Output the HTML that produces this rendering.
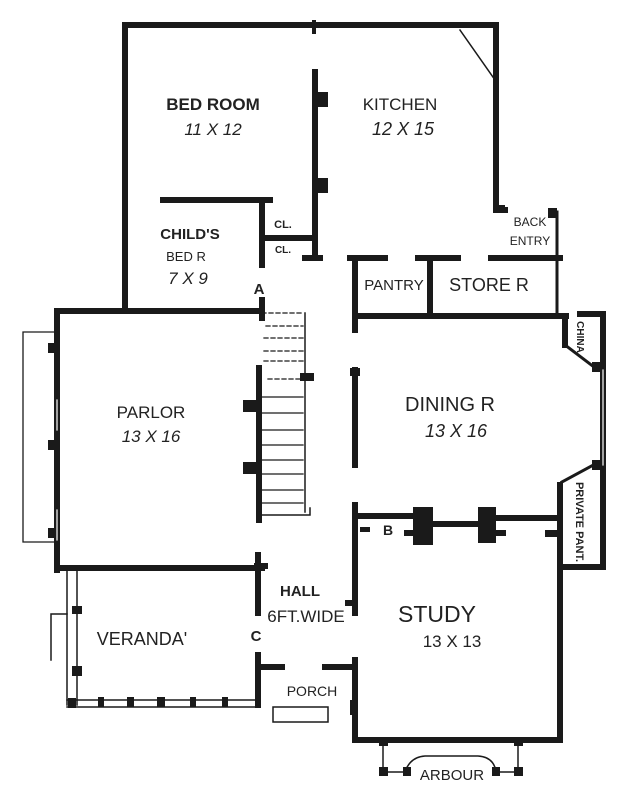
<!DOCTYPE html>
<html><head><meta charset="utf-8">
<style>
html,body{margin:0;padding:0;background:#fff;}
svg{display:block;}
text{font-family:"Liberation Sans",sans-serif;fill:#222;}
</style></head>
<body>
<svg width="630" height="800" viewBox="0 0 630 800" xmlns="http://www.w3.org/2000/svg">
<g stroke="#1a1a1a" stroke-linecap="square" fill="none">
<g stroke-width="6">
<polyline points="125,310 125,25 496,25 496,210 505,210"/>
<line x1="315" y1="72" x2="315" y2="258"/>
<line x1="163" y1="200" x2="270" y2="200"/>
<line x1="262" y1="200" x2="262" y2="265"/>
<line x1="262" y1="238" x2="313" y2="238"/>
<line x1="305" y1="258" x2="320" y2="258"/>
<line x1="350" y1="258" x2="385" y2="258"/>
<line x1="418" y1="258" x2="458" y2="258"/>
<line x1="491" y1="258" x2="560" y2="258"/>
<line x1="355" y1="258" x2="355" y2="330"/>
<line x1="430" y1="258" x2="430" y2="316"/>
<line x1="355" y1="316" x2="566" y2="316"/>
<polyline points="57,570 57,311 262,311"/>
<line x1="262" y1="300" x2="262" y2="318"/>
<line x1="57" y1="568" x2="262" y2="568"/>
<line x1="258" y1="555" x2="258" y2="613"/>
<line x1="259" y1="368" x2="259" y2="520"/>
<line x1="355" y1="370" x2="355" y2="465"/>
<line x1="355" y1="516" x2="415" y2="516"/>
<line x1="433" y1="524" x2="478" y2="524"/>
<line x1="496" y1="518" x2="556" y2="518"/>
<line x1="355" y1="505" x2="355" y2="613"/>
<polyline points="355,660 355,740 560,740 560,485"/>
<line x1="565" y1="316" x2="565" y2="345"/>
<polyline points="580,314 603,314 603,567 562,567"/>
<line x1="258" y1="655" x2="258" y2="705"/>
<line x1="258" y1="667" x2="282" y2="667"/>
<line x1="325" y1="667" x2="352" y2="667"/>
</g>
<line x1="557" y1="212" x2="557" y2="316" stroke-width="3"/>
<line x1="460" y1="30" x2="495" y2="80" stroke-width="1.5"/>
<line x1="565" y1="345" x2="598" y2="370" stroke-width="3"/>
<line x1="562" y1="482" x2="597" y2="463" stroke-width="3"/>
<polyline points="54,332 23,332 23,542 54,542" stroke-width="1.3"/>
<g stroke-width="1.5">
<line x1="67" y1="570" x2="67" y2="705"/>
<line x1="77" y1="570" x2="77" y2="705"/>
<polyline points="67,614 51,614 51,660"/>
<line x1="67" y1="700" x2="258" y2="700"/>
<line x1="67" y1="707" x2="258" y2="707"/>
<rect x="273" y="707" width="55" height="15"/>
<line x1="305" y1="313" x2="305" y2="512"/>
<polyline points="262,515 310,515 310,508"/>
</g>
<g stroke-width="1.3" stroke-dasharray="4,3">
<line x1="262" y1="313" x2="303" y2="313"/>
<line x1="266" y1="326" x2="303" y2="326"/>
<line x1="264" y1="338" x2="303" y2="338"/>
<line x1="264" y1="351" x2="303" y2="351"/>
<line x1="264" y1="361" x2="303" y2="361"/>
<line x1="268" y1="379" x2="303" y2="379"/>
</g>
<g stroke-width="1.3">
<line x1="262" y1="397" x2="303" y2="397"/>
<line x1="262" y1="413" x2="303" y2="413"/>
<line x1="262" y1="430" x2="303" y2="430"/>
<line x1="262" y1="445" x2="303" y2="445"/>
<line x1="262" y1="460" x2="303" y2="460"/>
<line x1="262" y1="474" x2="303" y2="474"/>
<line x1="262" y1="490" x2="303" y2="490"/>
<line x1="262" y1="503" x2="303" y2="503"/>
</g>
<line x1="603" y1="370" x2="603" y2="465" stroke="#fff" stroke-width="1.2"/>
<line x1="57" y1="400" x2="57" y2="430" stroke="#fff" stroke-width="1.2"/>
<line x1="57" y1="510" x2="57" y2="540" stroke="#fff" stroke-width="1.2"/>
<g stroke-width="1.5">
<line x1="383" y1="742" x2="383" y2="772"/>
<line x1="518" y1="742" x2="518" y2="772"/>
<line x1="383" y1="772" x2="405" y2="772"/>
<line x1="496" y1="772" x2="518" y2="772"/>
<path d="M405,772 Q410,757 425,756 L478,756 Q494,757 496,772"/>
</g>
</g>
<g fill="#1a1a1a">
<rect x="318" y="92" width="10" height="15"/>
<rect x="318" y="178" width="10" height="15"/>
<rect x="312" y="20" width="4" height="14"/>
<rect x="493" y="205" width="12" height="8"/>
<rect x="548" y="208" width="9" height="10"/>
<rect x="259" y="258" width="6" height="5"/>
<rect x="300" y="373" width="14" height="8"/>
<rect x="243" y="400" width="15" height="12"/>
<rect x="243" y="462" width="15" height="12"/>
<rect x="350" y="368" width="10" height="8"/>
<rect x="413" y="507" width="20" height="38"/>
<rect x="478" y="507" width="18" height="36"/>
<rect x="360" y="527" width="10" height="5"/>
<rect x="404" y="530" width="10" height="6"/>
<rect x="496" y="530" width="10" height="6"/>
<rect x="545" y="530" width="12" height="7"/>
<rect x="345" y="600" width="10" height="6"/>
<rect x="48" y="343" width="8" height="10"/>
<rect x="48" y="440" width="8" height="10"/>
<rect x="48" y="528" width="8" height="10"/>
<rect x="72" y="606" width="10" height="8"/>
<rect x="72" y="666" width="10" height="10"/>
<rect x="68" y="698" width="8" height="10"/>
<rect x="98" y="697" width="6" height="10"/>
<rect x="127" y="697" width="7" height="10"/>
<rect x="157" y="697" width="8" height="10"/>
<rect x="190" y="697" width="6" height="10"/>
<rect x="222" y="697" width="6" height="10"/>
<rect x="350" y="700" width="8" height="15"/>
<rect x="379" y="738" width="9" height="8"/>
<rect x="514" y="738" width="9" height="8"/>
<rect x="379" y="767" width="9" height="9"/>
<rect x="403" y="767" width="8" height="9"/>
<rect x="492" y="767" width="8" height="9"/>
<rect x="514" y="767" width="9" height="9"/>
<rect x="254" y="563" width="14" height="6"/>
<rect x="592" y="362" width="8" height="10"/>
<rect x="592" y="460" width="8" height="10"/>
</g>
<g text-anchor="middle" font-weight="bold">
<text x="213" y="110" font-size="17">BED ROOM</text>
<text x="213" y="135" font-size="17" font-style="italic" font-weight="normal">11 X 12</text>
<text x="400" y="110" font-size="17" font-weight="normal">KITCHEN</text>
<text x="403" y="135" font-size="18" font-style="italic" font-weight="normal">12 X 15</text>
<text x="190" y="239" font-size="15">CHILD'S</text>
<text x="186" y="261" font-size="13" font-weight="normal">BED R</text>
<text x="188" y="284" font-size="17" font-style="italic" font-weight="normal">7 X 9</text>
<text x="283" y="228" font-size="11">CL.</text>
<text x="283" y="253" font-size="10">CL.</text>
<text x="259" y="294" font-size="15">A</text>
<text x="394" y="290" font-size="15" font-weight="normal">PANTRY</text>
<text x="489" y="291" font-size="18" font-weight="normal">STORE R</text>
<text x="530" y="226" font-size="12" font-weight="normal">BACK</text>
<text x="530" y="245" font-size="12" font-weight="normal">ENTRY</text>
<text x="151" y="418" font-size="17" font-weight="normal">PARLOR</text>
<text x="151" y="442" font-size="17" font-style="italic" font-weight="normal">13 X 16</text>
<text x="450" y="411" font-size="20" font-weight="normal">DINING R</text>
<text x="456" y="437" font-size="18" font-style="italic" font-weight="normal">13 X 16</text>
<text x="388" y="535" font-size="14">B</text>
<text x="300" y="596" font-size="15">HALL</text>
<text x="306" y="622" font-size="17" font-weight="normal">6FT.WIDE</text>
<text x="437" y="622" font-size="23" font-weight="normal">STUDY</text>
<text x="452" y="647" font-size="17" font-weight="normal">13 X 13</text>
<text x="142" y="645" font-size="18" font-weight="normal">VERANDA'</text>
<text x="256" y="641" font-size="15">C</text>
<text x="312" y="696" font-size="14" font-weight="normal">PORCH</text>
<text x="452" y="780" font-size="15" font-weight="normal">ARBOUR</text>
<text transform="translate(577,337) rotate(90)" font-size="10">CHINA</text>
<text transform="translate(576,522) rotate(90)" font-size="11">PRIVATE PANT.</text>
</g>
</svg>
</body></html>
